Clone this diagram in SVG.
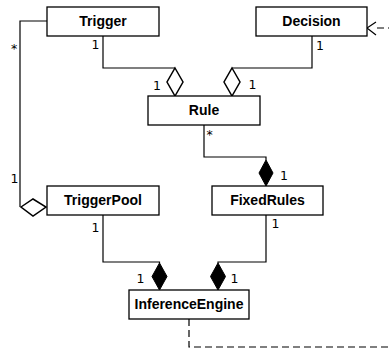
<svg xmlns="http://www.w3.org/2000/svg" width="389" height="350" viewBox="0 0 389 350">
<style>
.box{fill:#fff;stroke:#000;stroke-width:1.3}
.name{font-family:"Liberation Sans",Arial,sans-serif;font-weight:bold;font-size:14px;text-anchor:middle;fill:#000}
.lbl{font-family:"DejaVu Sans","Liberation Sans",sans-serif;font-size:12.5px;text-anchor:middle;fill:#000}
.ln{fill:none;stroke:#000;stroke-width:1.2}
.dash{fill:none;stroke:#000;stroke-width:1.2;stroke-dasharray:7 4}
.hol{fill:#fff;stroke:#000;stroke-width:1.5}
.sol{fill:#000;stroke:#000;stroke-width:1}
</style>
<rect width="389" height="350" fill="#fff"/>
<g id="connectors">
  <polyline class="ln" points="103,36 103,68 175,68"/>
  <polyline class="ln" points="312,36 312,68 232,68"/>
  <polyline class="ln" points="47,21 20,21 20,207"/>
  <polyline class="ln" points="204,125 204,157 266,157 266,160"/>
  <polyline class="ln" points="103,215 103,262 159.5,262 159.5,263"/>
  <polyline class="ln" points="266,215 266,262 218,262 218,263"/>
  <polyline class="dash" points="189,319 189,347 389,347"/>
  <line class="dash" x1="377" y1="28" x2="389" y2="28"/>
  <polyline class="ln" points="376,22 367,28 376,35"/>
  <polygon class="hol" points="175,68 183,82 175,96 167,82"/>
  <polygon class="hol" points="232,68 240,82 232,96 224,82"/>
  <polygon class="hol" points="21,207 33,199 46,207 33,216"/>
  <polygon class="sol" points="266,160 273,173 266,186 259,173"/>
  <polygon class="sol" points="159.5,263 167,276.5 159.5,290 152,276.5"/>
  <polygon class="sol" points="218,263 225.5,276.5 218,290 210.5,276.5"/>
  <text class="lbl" x="14" y="53">*</text>
  <text class="lbl" x="14.5" y="183">1</text>
  <text class="lbl" x="95.5" y="49">1</text>
  <text class="lbl" x="157" y="90">1</text>
  <text class="lbl" x="320" y="50">1</text>
  <text class="lbl" x="252.5" y="89">1</text>
  <text class="lbl" x="209.5" y="139">*</text>
  <text class="lbl" x="284" y="180">1</text>
  <text class="lbl" x="95.5" y="232">1</text>
  <text class="lbl" x="275.5" y="228">1</text>
  <text class="lbl" x="140.5" y="283">1</text>
  <text class="lbl" x="234.5" y="283">1</text>
</g>
<g id="Trigger"><rect class="box" x="47" y="7" width="112" height="29"/><text class="name" x="103" y="26">Trigger</text></g>
<g id="Decision"><rect class="box" x="256" y="7" width="111" height="29"/><text class="name" x="311.5" y="26">Decision</text></g>
<g id="Rule"><rect class="box" x="148" y="96" width="112" height="29"/><text class="name" x="204" y="115">Rule</text></g>
<g id="TriggerPool"><rect class="box" x="47" y="186" width="112" height="29"/><text class="name" x="103" y="205">TriggerPool</text></g>
<g id="FixedRules"><rect class="box" x="212" y="186" width="111" height="29"/><text class="name" x="267.5" y="205">FixedRules</text></g>
<g id="InferenceEngine"><rect class="box" x="129" y="290" width="120" height="29"/><text class="name" x="189" y="309">InferenceEngine</text></g>
</svg>
